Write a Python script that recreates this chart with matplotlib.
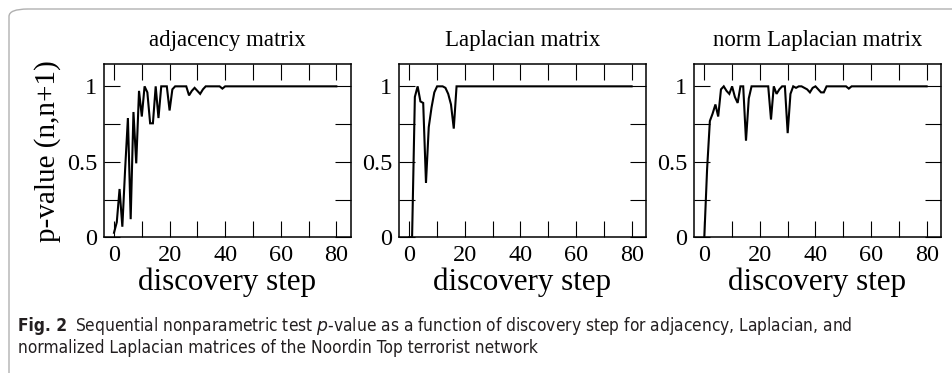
import matplotlib
matplotlib.use("Agg")
import matplotlib.pyplot as plt
from matplotlib.patches import FancyBboxPatch
from matplotlib.ticker import MultipleLocator

# ---- data ----
titles = ["adjacency matrix", "Laplacian matrix", "norm Laplacian matrix"]
steps = list(range(0, 81))

adjacency = [0.03, 0.10, 0.32, 0.07, 0.45, 0.79, 0.12, 0.83, 0.49, 0.97,
             0.80, 1.00, 0.96, 0.755, 0.755, 1.00, 0.79, 1.00, 1.00, 1.00,
             0.84, 0.98, 1.00, 1.00, 1.00, 1.00, 1.00, 0.94, 0.97, 0.99,
             0.97, 0.95, 0.98, 1.00, 1.00, 1.00, 1.00, 1.00, 1.00, 0.985] + [1.00] * 41

laplacian = [0.00, 0.00, 0.93, 1.00, 0.90, 0.89, 0.36, 0.73, 0.86, 0.96,
             1.00, 1.00, 1.00, 0.99, 0.95, 0.88, 0.72, 1.00] + [1.00] * 63

norm_laplacian = [0.00, 0.45, 0.77, 0.82, 0.88, 0.80, 0.98, 1.00, 0.97, 0.95,
                  1.00, 0.93, 0.89, 1.00, 1.00, 0.64, 0.92, 1.00, 1.00, 1.00,
                  1.00, 1.00, 1.00, 1.00, 0.78, 1.00, 0.95, 0.98, 1.00, 1.00,
                  0.69, 0.95, 1.00, 0.99, 1.00, 1.00, 0.99, 0.98, 0.96, 0.99,
                  1.00, 0.98, 0.96, 0.96, 1.00, 1.00, 1.00, 1.00, 1.00, 1.00,
                  1.00, 1.00, 0.985] + [1.00] * 28

series = [adjacency, laplacian, norm_laplacian]

xticks = [0, 20, 40, 60, 80]
yticks = [0, 0.5, 1]
yticklabels = ["0", "0.5", "1"]

caption_bold = "Fig. 2"
caption_line1 = "Sequential nonparametric test $\\mathit{p}$-value as a function of discovery step for adjacency, Laplacian, and"
caption_line2 = "normalized Laplacian matrices of the Noordin Top terrorist network"

# ---- figure ----
W, H = 953, 373
fig = plt.figure(figsize=(W / 100, H / 100), dpi=100)
plt.rcParams['font.family'] = ['Liberation Serif', 'DejaVu Serif']
plt.rcParams['mathtext.fontset'] = 'custom'

# outer frame
frame = FancyBboxPatch((9 / W, -0.2), 1.2, (H - 9) / H + 0.2,
                       boxstyle="round,pad=0,rounding_size=0.02",
                       transform=fig.transFigure, facecolor='none',
                       edgecolor='#b0b0b0', linewidth=1.0, clip_on=False)
fig.patches.append(frame)

lefts_px = [104, 399.3, 694.3]
ax_w_px = 246.5
bottom_px, top_px = 237.3, 64.3

for i, (left, data, title) in enumerate(zip(lefts_px, series, titles)):
    ax = fig.add_axes([left / W, (H - bottom_px) / H, ax_w_px / W, (bottom_px - top_px) / H])
    ax.plot(steps, data, color='black', linewidth=1.5, solid_joinstyle='miter')
    ax.set_xlim(-3.6, 85.1)
    ax.set_ylim(0, 1.146)
    ax.set_xticks(xticks)
    ax.set_yticks(yticks)
    ax.set_yticklabels(yticklabels)
    ax.xaxis.set_minor_locator(MultipleLocator(10))
    ax.yaxis.set_minor_locator(MultipleLocator(0.25))
    ax.tick_params(which='both', direction='in', top=True, right=True,
                   length=11.5, width=0.8, labelsize=17.5)
    ax.tick_params(axis='x', which='major', pad=5.5)
    ax.tick_params(axis='y', which='major', pad=5)
    for s in ax.spines.values():
        s.set_linewidth(1.1)
    ax.set_title(title, fontsize=16.5, pad=13)
    ax.set_xlabel("discovery step", fontsize=22.3, labelpad=1)
    if i == 0:
        ax.set_ylabel("p-value (n,n+1)", fontsize=21, labelpad=4)

# caption
cap_kw = dict(family=['DejaVu Sans'], fontstretch='condensed', color='#231f20')
fs = 11.5
t_b = fig.text(18 / W, 1 - 331 / H, caption_bold, fontsize=fs, fontweight='bold', **cap_kw)
t1 = fig.text(70 / W, 1 - 331 / H, caption_line1, fontsize=fs, **cap_kw)
t2 = fig.text(18 / W, 1 - 353 / H, caption_line2, fontsize=fs, **cap_kw)

# fit caption width to the reference text block (ends at ~855 px)
r = fig.canvas.get_renderer()
bw = t_b.get_window_extent(r).width
w1 = t1.get_window_extent(r).width
scale = (855 - 18) / (bw + 8 + w1)
for t in (t_b, t1, t2):
    t.set_fontsize(fs * scale)
bw = t_b.get_window_extent(r).width
t1.set_x((18 + bw + 8) / W)

fig.savefig("out.png", dpi=100)
